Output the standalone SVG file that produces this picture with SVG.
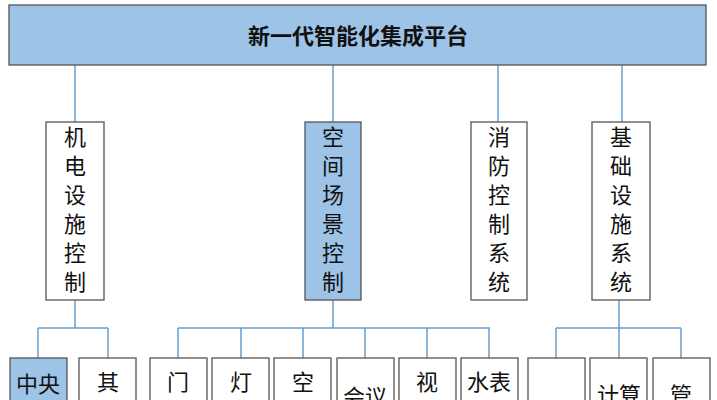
<svg xmlns="http://www.w3.org/2000/svg" width="717" height="400" viewBox="0 0 717 400">
<style>
.b{fill:#fff;stroke:#555;stroke-width:1.3}
.f{fill:#9dc3e6;stroke:#555;stroke-width:1.3}
.c{stroke:#6a9fcb;stroke-width:1.5;fill:none}
text{font-family:"Noto Sans CJK SC",sans-serif;font-size:22px;text-anchor:middle;fill:#111}
.t{font-weight:bold}
</style>
<rect width="717" height="400" fill="#fff"/>
<g id="connectors">
<path class="c" d="M75 65V122M333 65V122M498 65V122M622 65V122"/>
<path class="c" d="M75 300V328M38 328H108M38 328V358M108 328V358"/>
<path class="c" d="M333 300V328M178 328H490M178 328V358M241 328V358M303 328V358M365 328V358M427 328V358M489 328V358"/>
<path class="c" d="M619 300V328M556 328H681M556 328V358M619 328V358M681 328V358"/>
</g>
<g id="root"><rect class="f" x="9" y="5" width="697" height="60"/><text class="t" x="358" y="44">新一代智能化集成平台</text></g>
<g id="n1"><rect class="b" x="46" y="122" width="58" height="178"/><text x="75" y="145">机</text><text x="75" y="174">电</text><text x="75" y="203">设</text><text x="75" y="232">施</text><text x="75" y="261">控</text><text x="75" y="290">制</text></g>
<g id="n2"><rect class="f" x="305" y="122" width="56" height="178"/><text x="333" y="145">空</text><text x="333" y="174">间</text><text x="333" y="203">场</text><text x="333" y="232">景</text><text x="333" y="261">控</text><text x="333" y="290">制</text></g>
<g id="n3"><rect class="b" x="471" y="122" width="56" height="178"/><text x="499" y="145">消</text><text x="499" y="174">防</text><text x="499" y="203">控</text><text x="499" y="232">制</text><text x="499" y="261">系</text><text x="499" y="290">统</text></g>
<g id="n4"><rect class="b" x="592" y="122" width="58" height="178"/><text x="621" y="145">基</text><text x="621" y="174">础</text><text x="621" y="203">设</text><text x="621" y="232">施</text><text x="621" y="261">系</text><text x="621" y="290">统</text></g>
<g id="l1"><rect class="f" x="10" y="358" width="57" height="50"/><text x="38" y="392">中央</text></g>
<g id="l2"><rect class="b" x="79" y="358" width="57" height="50"/><text x="108" y="390">其</text></g>
<g id="l3"><rect class="b" x="150" y="358" width="57" height="50"/><text x="178" y="390">门</text></g>
<g id="l4"><rect class="b" x="212" y="358" width="57" height="50"/><text x="241" y="390">灯</text></g>
<g id="l5"><rect class="b" x="274" y="358" width="57" height="50"/><text x="303" y="390">空</text></g>
<g id="l6"><rect class="b" x="337" y="358" width="57" height="50"/><text x="365" y="405">会议</text></g>
<g id="l7"><rect class="b" x="399" y="358" width="57" height="50"/><text x="427" y="390">视</text></g>
<g id="l8"><rect class="b" x="461" y="358" width="57" height="50"/><text x="489" y="390">水表</text></g>
<g id="l9"><rect class="b" x="528" y="358" width="57" height="50"/></g>
<g id="l10"><rect class="b" x="590" y="358" width="57" height="50"/><text x="619" y="403">计算</text></g>
<g id="l11"><rect class="b" x="653" y="358" width="57" height="50"/><text x="681" y="403">管</text></g>
</svg>
